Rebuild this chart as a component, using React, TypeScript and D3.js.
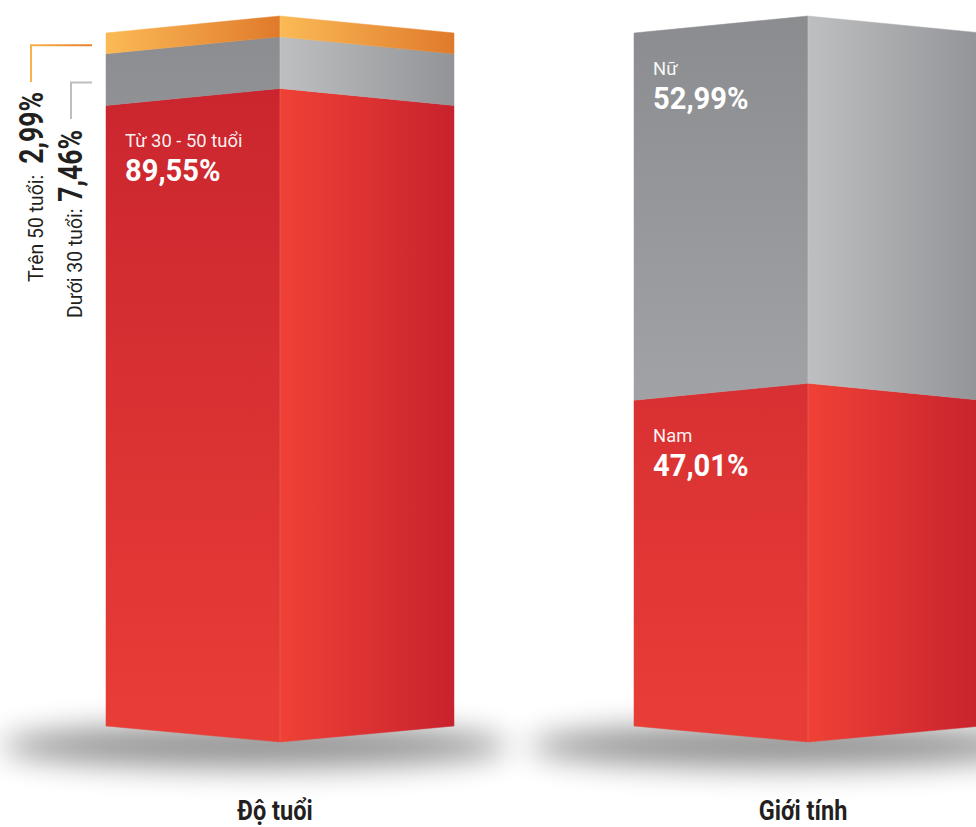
import React from "react";
import * as d3 from "d3";

const categories = ["Độ tuổi", "Giới tính"];
const ageLabels = ["Từ 30 - 50 tuổi", "Dưới 30 tuổi", "Trên 50 tuổi"];
const ageValues = [89.55, 7.46, 2.99];
const ageColors = ["red", "gray", "orange"];
const genderLabels = ["Nam", "Nữ"];
const genderValues = [47.01, 52.99];
const genderColors = ["red", "gray"];
const valueTexts = ["89,55%", "7,46%", "2,99%", "47,01%", "52,99%"];

const W = 976;
const H = 827;
const FONT = "Roboto, 'Liberation Sans', sans-serif";

const xCenter = d3.scalePoint<string>().domain(categories).range([280, 808]);
const halfW = 174;
const y = d3.scaleLinear().domain([0, 100]).range([726, 33]);
const topLift = 17;
const bottomDrop = 16;

type Seg = { label: string; value: number; color: string; text: string; lo: number; hi: number };

function stack(labels: string[], values: number[], colors: string[], texts: string[]): Seg[] {
  let acc = 0;
  return labels.map((l, i) => {
    const lo = acc;
    acc += values[i];
    return { label: l, value: values[i], color: colors[i], text: texts[i], lo, hi: acc };
  });
}

const columns = [
  stack(ageLabels, ageValues, ageColors, [valueTexts[0], valueTexts[1], valueTexts[2]]),
  stack(genderLabels, genderValues, genderColors, [valueTexts[3], valueTexts[4]]),
];

export default function App() {
  return (
    <svg width={W} height={H} style={{ display: "block", position: "absolute", left: 0, top: 0 }}>
      <defs>
        <filter id="blur" x="-50%" y="-200%" width="200%" height="500%">
          <feGaussianBlur stdDeviation="15" />
        </filter>
        {categories.map((c, ci) => {
          const cx = xCenter(c)!;
          return (
            <React.Fragment key={c}>
              <linearGradient id={`redL${ci}`} gradientUnits="userSpaceOnUse" x1={0} y1={33} x2={0} y2={726}>
                <stop offset="0" stopColor="#C8232E" />
                <stop offset="1" stopColor="#E83D37" />
              </linearGradient>
              <linearGradient id={`redR${ci}`} gradientUnits="userSpaceOnUse" x1={cx} y1={0} x2={cx + halfW} y2={0}>
                <stop offset="0" stopColor="#EF4136" />
                <stop offset="1" stopColor="#C8222E" />
              </linearGradient>
              <linearGradient id={`grayL${ci}`} gradientUnits="userSpaceOnUse" x1={0} y1={33} x2={0} y2={726}>
                <stop offset="0" stopColor="#8B8D90" />
                <stop offset="1" stopColor="#B3B5B8" />
              </linearGradient>
              <linearGradient id={`grayR${ci}`} gradientUnits="userSpaceOnUse" x1={cx} y1={0} x2={cx + halfW} y2={0}>
                <stop offset="0" stopColor="#BEBFC1" />
                <stop offset="1" stopColor="#929497" />
              </linearGradient>
              <linearGradient id={`orangeL${ci}`} gradientUnits="userSpaceOnUse" x1={cx - halfW} y1={0} x2={cx} y2={0}>
                <stop offset="0" stopColor="#FBBA56" />
                <stop offset="1" stopColor="#E07A2B" />
              </linearGradient>
              <linearGradient id={`orangeR${ci}`} gradientUnits="userSpaceOnUse" x1={cx} y1={0} x2={cx + halfW} y2={0}>
                <stop offset="0" stopColor="#FBBA56" />
                <stop offset="1" stopColor="#E07A2B" />
              </linearGradient>
            </React.Fragment>
          );
        })}
        <linearGradient id="lineOrange" x1="0" y1="0" x2="1" y2="0">
          <stop offset="0" stopColor="#F9B24A" />
          <stop offset="1" stopColor="#E57F2E" />
        </linearGradient>
      </defs>
      <rect width={W} height={H} fill="#fff" />

      {/* shadows */}
      {categories.map((c) => {
        const cx = xCenter(c)!;
        return (
          <ellipse key={"sh" + c} cx={cx - 25} cy={y(0) + 20} rx={halfW + 80} ry={22} fill="#000" opacity={0.42} filter="url(#blur)" />
        );
      })}

      {columns.map((segs, ci) => {
        const cx = xCenter(categories[ci])!;
        const xl = cx - halfW;
        const xr = cx + halfW;
        return (
          <g key={"col" + ci}>
            {segs.map((s, si) => {
              const yTop = y(s.hi);
              const yBot = y(s.lo);
              const cTop = yTop - topLift;
              const cBot = s.lo === 0 ? yBot + bottomDrop : yBot - topLift;
              const left = `M${xl},${yTop}L${cx},${cTop}L${cx},${cBot}L${xl},${yBot}Z`;
              const right = `M${cx},${cTop}L${xr},${yTop}L${xr},${yBot}L${cx},${cBot}Z`;
              return (
                <g key={si}>
                  <path d={left} fill={`url(#${s.color}L${ci})`} stroke={`url(#${s.color}L${ci})`} strokeWidth={0.5} />
                  <path d={right} fill={`url(#${s.color}R${ci})`} stroke={`url(#${s.color}R${ci})`} strokeWidth={0.5} />
                </g>
              );
            })}
            <line x1={cx} x2={cx} y1={y(100) - topLift} y2={y(0) + bottomDrop} stroke="#fff" strokeOpacity={0.12} strokeWidth={1} />
          </g>
        );
      })}

      {/* inside labels */}
      {columns.map((segs, ci) => {
        const cx = xCenter(categories[ci])!;
        const xl = cx - halfW;
        return segs
          .filter((s) => s.value > 20)
          .map((s, si) => {
            const base = y(s.hi) + 42;
            return (
              <g key={`lab${ci}-${si}`} fontFamily={FONT} fill="#fff">
                <text transform={`translate(${xl + 19},${base}) scale(0.97,1)`} fontSize={19} fillOpacity={0.95}>{s.label}</text>
                <text transform={`translate(${xl + 19},${base + 34}) scale(0.91,1)`} fontSize={32} fontWeight="bold">{s.text}</text>
              </g>
            );
          });
      })}

      {/* side labels for small age segments */}
      {(() => {
        const segs = columns[0];
        const xl = xCenter(categories[0])! - halfW;
        const over = segs[2];
        const under = segs[1];
        const oy = (y(over.hi) + y(over.lo)) / 2 + 2;
        const uy = (y(under.hi) + y(under.lo)) / 2 + 3;
        return (
          <g fontFamily={FONT} fill="#231F20">
            <path d={`M${xl - 14},${oy}H31V82`} fill="none" stroke="url(#lineOrange)" strokeWidth={2} />
            <path d={`M${xl - 14},${uy}H71V119`} fill="none" stroke="#BCBEC0" strokeWidth={2} />
            <text transform={`translate(43,282) rotate(-90) scale(0.97,1)`} fontSize={20}>{over.label + ":"}</text>
            <text transform={`translate(43,92) rotate(-90) scale(0.78,1)`} fontSize={34} fontWeight="bold" textAnchor="end">{over.text}</text>
            <text transform={`translate(82,318) rotate(-90) scale(0.97,1)`} fontSize={20}>{under.label + ":"}</text>
            <text transform={`translate(82,130) rotate(-90) scale(0.78,1)`} fontSize={34} fontWeight="bold" textAnchor="end">{under.text}</text>
          </g>
        );
      })()}

      {/* category labels */}
      {categories.map((c) => (
        <text
          key={"cat" + c}
          transform={`translate(${xCenter(c)! - 5},820) scale(0.87,1)`}
          textAnchor="middle"
          fontFamily={FONT}
          fontWeight="bold"
          fontSize={27}
          fill="#231F20"
        >
          {c}
        </text>
      ))}
    </svg>
  );
}
